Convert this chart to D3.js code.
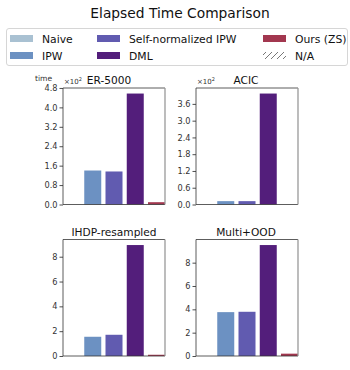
<!DOCTYPE html>
<html>
<head>
<meta charset="utf-8">
<script src="https://cdn.jsdelivr.net/npm/d3@7"></script>
<style>
  body { margin: 0; background: #fff; }
  svg { font-family: "DejaVu Sans", sans-serif; }
</style>
</head>
<body>
<div id="chart"></div>
<script>
// methods, one bar slot each
const methods = ['Naive', 'IPW', 'Self-normalized IPW', 'DML', 'Ours (ZS)'];
const colors = ['#a9c1d2', '#6c91c2', '#615bb0', '#531e7b', '#a2374f'];

// panel values (null = no bar)
const er5000 = [null, 1.40, 1.36, 4.57, 0.095];   // x10^2
const acic = [null, 0.12, 0.12, 3.97, null];       // x10^2
const ihdp = [null, 1.55, 1.71, 8.94, 0.10];
const multiOod = [null, 3.76, 3.79, 9.51, 0.20];

const erTicks = [0, 0.8, 1.6, 2.4, 3.2, 4.0, 4.8];
const acicTicks = [0, 0.6, 1.2, 1.8, 2.4, 3.0, 3.6];
const ihdpTicks = [0, 2, 4, 6, 8];
const multiTicks = [0, 2, 4, 6, 8];

const panels = [
  { title: 'ER-5000', values: er5000, ticks: erTicks, fmt: '.1f', x: 63, y: 88, titleX: 109, offset: true, ylab: true },
  { title: 'ACIC', values: acic, ticks: acicTicks, fmt: '.1f', x: 196, y: 88, titleX: 246, offset: true },
  { title: 'IHDP-resampled', values: ihdp, ticks: ihdpTicks, fmt: 'd', x: 63, y: 239.5, titleX: 114 },
  { title: 'Multi+OOD', values: multiOod, ticks: multiTicks, fmt: 'd', x: 196, y: 239.5, titleX: 246 }
];

const pw = 102, ph = 116.5;

const svg = d3.select('#chart').append('svg')
  .attr('width', 350)
  .attr('height', 370);

// hatch for N/A
svg.append('defs').append('pattern')
  .attr('id', 'hatch')
  .attr('patternUnits', 'userSpaceOnUse')
  .attr('width', 6).attr('height', 6)
  .append('path')
  .attr('d', 'M0,6 L6,0 M-1.5,1.5 L1.5,-1.5 M4.5,7.5 L7.5,4.5')
  .attr('stroke', '#555')
  .attr('stroke-width', 0.8);

svg.append('text')
  .attr('x', 180).attr('y', 17.5)
  .attr('text-anchor', 'middle')
  .attr('font-size', 13.8)
  .attr('fill', '#111')
  .text('Elapsed Time Comparison');

// legend
const legend = svg.append('g');
legend.append('rect')
  .attr('x', 6.5).attr('y', 28.5)
  .attr('width', 341).attr('height', 37)
  .attr('rx', 2.5)
  .attr('fill', '#fff')
  .attr('stroke', '#d6d6d6');

const legendItems = [
  { label: 'Naive', color: colors[0], x: 10, y: 35 },
  { label: 'IPW', color: colors[1], x: 10, y: 52 },
  { label: 'Self-normalized IPW', color: colors[2], x: 97, y: 35 },
  { label: 'DML', color: colors[3], x: 97, y: 52 },
  { label: 'Ours (ZS)', color: colors[4], x: 263, y: 35 },
  { label: 'N/A', color: 'url(#hatch)', x: 263, y: 52 }
];

legendItems.forEach(d => {
  legend.append('rect')
    .attr('x', d.x).attr('y', d.y)
    .attr('width', 23).attr('height', 7)
    .attr('fill', d.color);
  legend.append('text')
    .attr('x', d.x + 32).attr('y', d.y + 7.6)
    .attr('font-size', 10.8)
    .attr('fill', '#111')
    .text(d.label);
});

// panels
panels.forEach(p => {
  const g = svg.append('g')
    .attr('transform', 'translate(' + p.x + ',' + p.y + ')');

  const x = d3.scaleBand()
    .domain(methods)
    .range([0, pw])
    .paddingInner(0.2)
    .paddingOuter(0);

  const y = d3.scaleLinear()
    .domain([0, d3.max(p.values) * 1.05])
    .range([ph, 0]);

  g.selectAll('rect.bar')
    .data(p.values.map((v, i) => ({ m: methods[i], v: v, c: colors[i] })).filter(d => d.v !== null))
    .enter()
    .append('rect')
    .attr('class', 'bar')
    .attr('x', d => x(d.m))
    .attr('y', d => y(d.v))
    .attr('width', x.bandwidth())
    .attr('height', d => ph - y(d.v))
    .attr('fill', d => d.c);

  const axis = g.append('g')
    .call(d3.axisLeft(y).tickValues(p.ticks).tickSize(3.5).tickPadding(2)
      .tickFormat(d3.format(p.fmt)));
  axis.select('.domain').remove();
  axis.selectAll('text').attr('font-size', 8.2).attr('fill', '#333')
    .attr('font-family', '"DejaVu Sans", sans-serif');
  axis.selectAll('line').attr('stroke', '#222').attr('stroke-width', 0.8);

  // spines
  g.append('line').attr('x1', 0).attr('x2', pw).attr('y1', 0).attr('y2', 0)
    .attr('stroke', '#333').attr('stroke-width', 0.8);
  g.append('line').attr('x1', 0).attr('x2', pw).attr('y1', ph).attr('y2', ph)
    .attr('stroke', '#333').attr('stroke-width', 0.8);
  g.append('line').attr('x1', 0).attr('x2', 0).attr('y1', 0).attr('y2', ph)
    .attr('stroke', '#333').attr('stroke-width', 0.8);
  g.append('line').attr('x1', pw).attr('x2', pw).attr('y1', 0).attr('y2', ph)
    .attr('stroke', '#999').attr('stroke-width', 1.3);

  svg.append('text')
    .attr('x', p.titleX).attr('y', p.y - 4)
    .attr('text-anchor', 'middle')
    .attr('font-size', 10.6)
    .attr('fill', '#111')
    .text(p.title);

  if (p.offset) {
    const t = svg.append('text')
      .attr('x', p.x + 1).attr('y', p.y - 4)
      .attr('font-size', 7)
      .attr('fill', '#333');
    t.append('tspan').text('\u00d710');
    t.append('tspan').attr('dy', -3).attr('font-size', 5).text('2');
  }
  if (p.ylab) {
    svg.append('text')
      .attr('x', 35).attr('y', p.y - 7)
      .attr('font-size', 7.6)
      .attr('fill', '#333')
      .text('time');
  }
});
</script>
</body>
</html>
